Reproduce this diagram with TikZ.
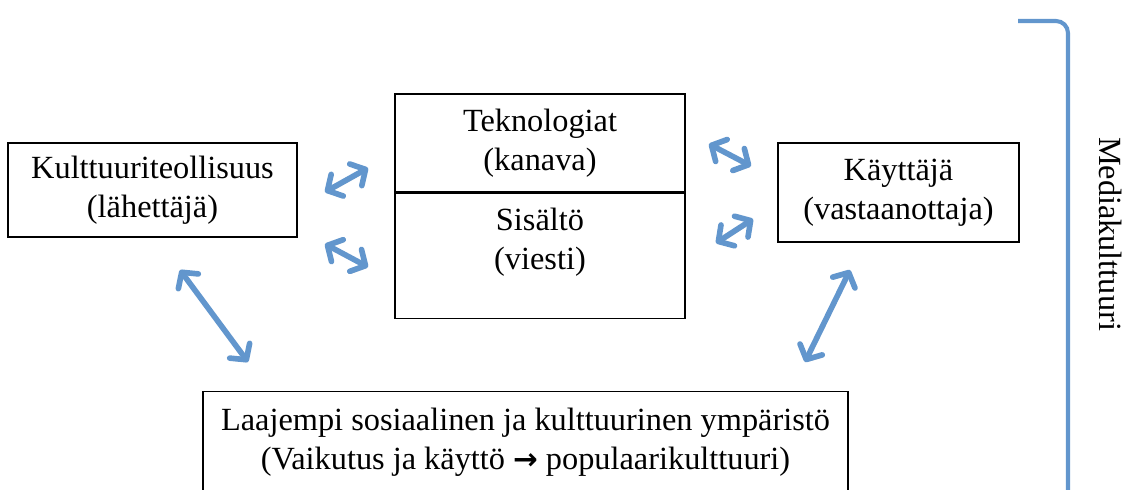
\documentclass[tikz,border=0pt]{standalone}
\usepackage{fontspec}
\setmainfont{Liberation Serif}
\usepackage{tikz}
\usetikzlibrary{arrows.meta,positioning,calc}
\definecolor{skyblue}{RGB}{98,150,205}
\definecolor{ink}{RGB}{0,0,0}
\newfontfamily\symfont{DejaVu Sans}
\tikzset{
  >={Straight Barb[length=2.8mm,width=6.2mm,round]},
  box/.style={draw=ink,thick,align=center,font=\fontsize{23}{28}\selectfont,
    inner sep=0pt},
  txt/.style={align=center,font=\fontsize{23}{28}\selectfont,inner sep=0pt},
  twoway/.style={<->,line width=4pt,draw=skyblue,line cap=round,
    preaction={draw=black!16,transform canvas={shift={(0.8pt,-1.6pt)}}}},
  brace/.style={draw=skyblue,line width=2.9pt,rounded corners=3mm},
}
\begin{document}
\begin{tikzpicture}[x=0.25mm,y=-0.25mm]
  \useasboundingbox (0,0) rectangle (1123,489);
  % boxes
  \node[box,minimum width=72.25mm,minimum height=23.5mm] (kult) at (152.5,190)
    {Kulttuuriteollisuus\\(lähettäjä)};
  \node[box,minimum width=72.5mm,minimum height=24.5mm] (tek) at (540,143)
    {Teknologiat\\(kanava)};
  \node[box,minimum width=72.5mm,minimum height=31.25mm,anchor=north] (sis) at (tek.south) {};
  \node[txt] (sistxt) at (540,242) {Sisältö\\(viesti)};
  \node[box,minimum width=60.25mm,minimum height=24.75mm] (kaytt) at (898.5,192.5)
    {Käyttäjä\\(vastaanottaja)};
  \node[box,minimum width=161.25mm,minimum height=30mm,anchor=north] (ymp) at (525.5,391) {};
  \node[txt] (ymptxt) at (525.5,442)
    {Laajempi sosiaalinen ja kulttuurinen ympäristö\\(Vaikutus ja käyttö {\symfont\bfseries\fontsize{21}{28}\selectfont\symbol{"2192}} populaarikulttuuri)};
  % arrow ends
  \coordinate (a1) at (325,192); \coordinate (b1) at (368,168);
  \coordinate (a2) at (325,244); \coordinate (b2) at (368,267);
  \coordinate (a3) at (709,144); \coordinate (b3) at (751,166);
  \coordinate (a4) at (716,243); \coordinate (b4) at (753,219);
  \coordinate (a5) at (180,270); \coordinate (b5) at (248,362);
  \coordinate (a6) at (805,362); \coordinate (b6) at (850,270);
  \foreach \i in {1,...,6} \draw[twoway] (a\i) -- (b\i);
  % media culture bracket
  \coordinate (bt) at (1018,21); \coordinate (bb) at (1068,495);
  \draw[brace] (bt) -- (bt -| bb) -- (bb);
  \node[txt,rotate=-90] (media) at (1111,234) {Mediakulttuuri};
\end{tikzpicture}
\end{document}
